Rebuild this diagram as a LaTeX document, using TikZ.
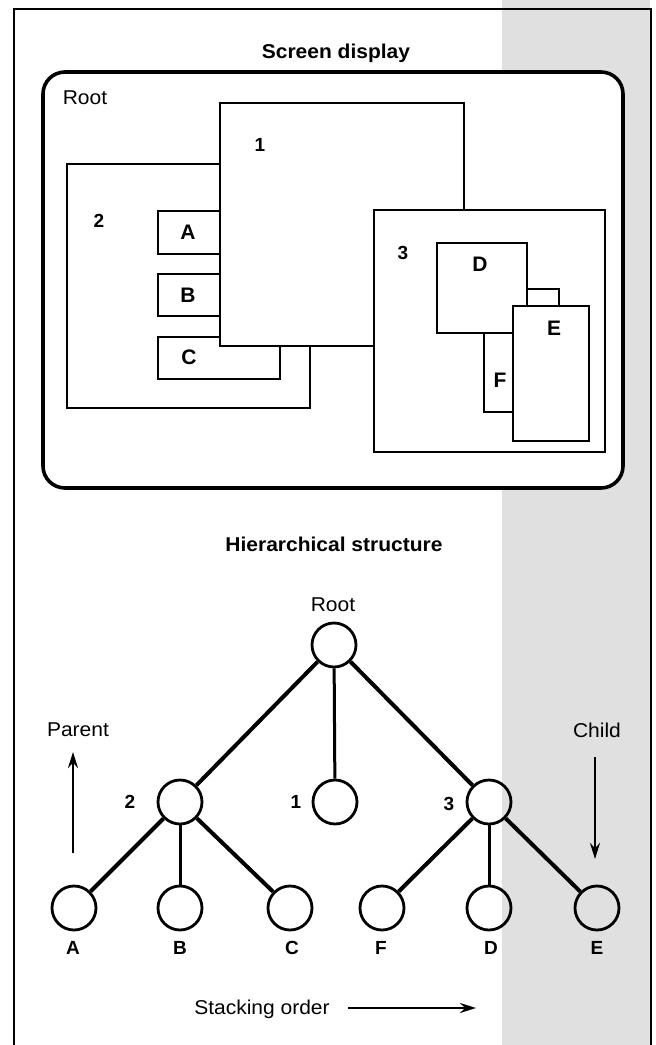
\documentclass[tikz,border=0pt]{standalone}
\usepackage{fontspec}
\setmainfont{Liberation Sans}
\usepackage{graphicx}
\usetikzlibrary{arrows.meta}
\newcommand{\stx}[1]{\scalebox{1.05}[1]{#1}}
\begin{document}
\begin{tikzpicture}[x=1pt,y=-1pt,
  title/.style={font=\fontsize{20}{22}\selectfont\bfseries, inner sep=0pt},
  lbl/.style={font=\fontsize{20}{22}\selectfont, inner sep=0pt},
  blbl/.style={font=\fontsize{19}{22}\selectfont\bfseries, inner sep=0pt},
  slbl/.style={font=\fontsize{21}{22}\selectfont\bfseries, inner sep=0pt},
  win/.style={draw=black, fill=white, line width=2.8pt},
  vtx/.style={circle, draw=black, line width=2.8pt, minimum size=44pt, inner sep=0pt},
  bigedge/.style={line width=4pt},
  smalledge/.style={line width=3pt},
  arr/.style={line width=2.4pt, -{Stealth[length=16pt,width=10pt]}}
]
\useasboundingbox (0,0) rectangle (656,1045);
% background shade of the page
\fill[black!12] (502,0) rectangle (650,1045);
% outer frame (open at the bottom)
\draw[line width=2.4pt] (14,1045) -- (14,9) -- (651,9) -- (651,1045);

% ---------- Screen display ----------
\node[title] (t1) at (336,53) {\stx{Screen display}};
\draw[line width=3.6pt, fill=white, rounded corners=22pt] (43,72) rectangle (623,488);
\node[lbl] (rootS) at (85,98) {\stx{Root}};

% window 2 and its children
\draw[win] (67,164) rectangle (310,408);
\node[blbl] (w2) at (99,221) {2};
\draw[win] (158,211) rectangle (240,254);
\draw[win] (158,274) rectangle (240,316);
\draw[win] (158,337) rectangle (280,379);
\node[slbl] (wA) at (188,232) {A};
\node[slbl] (wB) at (188,295) {B};
\node[slbl] (wC) at (189,357) {C};
% window 1
\draw[win] (220,103) rectangle (464,346);
\node[blbl] (w1) at (260,145) {1};
% window 3 and its children
\draw[win] (374,210) rectangle (605,452);
\node[blbl] (w3) at (403,253) {3};
\draw[win] (484,289) rectangle (559,412);
\draw[win] (437,243) rectangle (527,333);
\draw[win] (513,306) rectangle (589,441);
\node[slbl] (wD) at (480,264) {D};
\node[slbl] (wE) at (554,328) {E};
\node[slbl] (wF) at (500,380) {F};

% ---------- Hierarchical structure ----------
\node[title] (t2) at (334,544) {\stx{Hierarchical structure}};
\node[lbl] (rootT) at (333,605) {\stx{Root}};

\node[vtx] (r) at (334,645) {};
\node[vtx] (n2) at (180,802) {};
\node[vtx] (n1) at (335,802) {};
\node[vtx] (n3) at (489,802) {};
\node[vtx] (a) at (74,908) {};
\node[vtx] (b) at (180,908) {};
\node[vtx] (c) at (290,908) {};
\node[vtx] (f) at (382,908) {};
\node[vtx] (d) at (489,908) {};
\node[vtx] (e) at (597,908) {};

\draw[bigedge] (r) -- (n2);
\draw[smalledge] (r) -- (n1);
\draw[bigedge] (r) -- (n3);
\draw[bigedge] (n2) -- (a);
\draw[smalledge] (n2) -- (b);
\draw[bigedge] (n2) -- (c);
\draw[bigedge] (n3) -- (f);
\draw[smalledge] (n3) -- (d);
\draw[bigedge] (n3) -- (e);

\node[blbl] (l2) at (130,802) {2};
\node[blbl] (l1) at (296,802) {1};
\node[blbl] (l3) at (449,804) {3};
\node[blbl] (la) at (73,948) {A};
\node[blbl] (lb) at (180,948) {B};
\node[blbl] (lc) at (292,948) {C};
\node[blbl] (lf) at (381,948) {F};
\node[blbl] (ld) at (491,948) {D};
\node[blbl] (le) at (597,948) {E};

\node[lbl] (parent) at (78,730) {\stx{Parent}};
\node[lbl] (child) at (597,730) {\stx{Child}};
\coordinate (pa0) at (73,853);
\coordinate (pa1) at (73,752);
\coordinate (ch0) at (595,757);
\coordinate (ch1) at (595,859);
\draw[arr] (pa0) -- (pa1);
\draw[arr] (ch0) -- (ch1);

\node[lbl] (stack) at (262,1009) {\stx{Stacking order}};
\coordinate (so0) at (348,1008);
\coordinate (so1) at (476,1008);
\draw[arr] (so0) -- (so1);
\end{tikzpicture}
\end{document}
